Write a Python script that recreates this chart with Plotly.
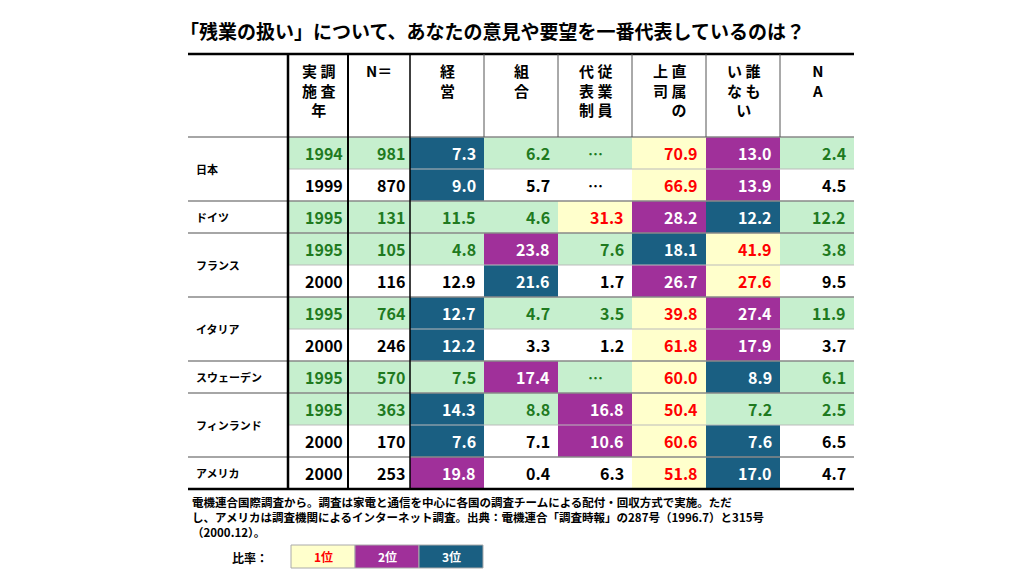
import plotly.graph_objects as go

countries = ["日本", "日本", "ドイツ", "フランス", "フランス", "イタリア", "イタリア",
             "スウェーデン", "フィンランド", "フィンランド", "アメリカ"]
years = [1994, 1999, 1995, 1995, 2000, 1995, 2000, 1995, 1995, 2000, 2000]
n_resp = [981, 870, 131, 105, 116, 764, 246, 570, 363, 170, 253]
keiei = [7.3, 9.0, 11.5, 4.8, 12.9, 12.7, 12.2, 7.5, 14.3, 7.6, 19.8]
kumiai = [6.2, 5.7, 4.6, 23.8, 21.6, 4.7, 3.3, 17.4, 8.8, 7.1, 0.4]
daihyo = [None, None, 31.3, 7.6, 1.7, 3.5, 1.2, None, 16.8, 10.6, 6.3]
joshi = [70.9, 66.9, 28.2, 18.1, 26.7, 39.8, 61.8, 60.0, 50.4, 60.6, 51.8]
daremo = [13.0, 13.9, 12.2, 41.9, 27.6, 27.4, 17.9, 8.9, 7.2, 7.6, 17.0]
na = [2.4, 4.5, 12.2, 3.8, 9.5, 11.9, 3.7, 6.1, 2.5, 6.5, 4.7]
shaded = [True, False, True, True, False, True, False, True, True, False, False]
headers = ["実 調<br>施 査<br>年", "N＝", "経<br>営", "組<br>合", "代 従<br>表 業<br>制 員",
           "上 直<br>司 属<br>　 の", "い 誰<br>な も<br>い", "N<br>A"]
title = "「残業の扱い」について、あなたの意見や要望を一番代表しているのは？"
note = ("電機連合国際調査から。調査は家電と通信を中心に各国の調査チームによる配付・回収方式で実施。ただ<br>"
        "し、アメリカは調査機関によるインターネット調査。出典：電機連合「調査時報」の287号（1996.7）と315号<br>"
        "（2000.12）。")

FONT = "Noto Sans CJK JP"
GREEN_BG, YEL, PUR, BLU = "#c6efce", "#ffffcc", "#a0309a", "#1a5f82"
GREEN_TX = "#1f7a1f"
xs = [180, 280, 340, 402, 476, 550, 624, 698, 772, 846]
top, hdr_bot, rh = 46, 129, 32

fig = go.Figure()
fig.update_xaxes(range=[0, 1024], visible=False, fixedrange=True)
fig.update_yaxes(range=[576, 0], visible=False, fixedrange=True)
shapes, anns = [], []

def rect(x0, x1, y0, y1, color):
    shapes.append(dict(type="rect", x0=x0, x1=x1, y0=y0, y1=y1, fillcolor=color, line_width=0, layer="below"))

def line(x0, y0, x1, y1, w, c="black"):
    shapes.append(dict(type="line", x0=x0, y0=y0, x1=x1, y1=y1, line=dict(color=c, width=w)))

def text(x, y, s, size, color="black", xa="center", ya="middle", align="center"):
    anns.append(dict(x=x, y=y, text=s, showarrow=False, xanchor=xa, yanchor=ya, align=align,
                     font=dict(family=FONT, size=size, color=color)))

text(170, 22, "<b>" + title + "</b>", 19, xa="left")
for j, h in enumerate(headers):
    text((xs[j + 1] + xs[j + 2]) / 2, 50, "<b>" + h + "</b>", 15, ya="top")

cols = [keiei, kumiai, daihyo, joshi, daremo]
for i in range(len(years)):
    y0 = hdr_bot + i * rh
    yc = y0 + rh / 2
    green = shaded[i]
    if green:
        rect(xs[1], xs[9], y0, y0 + rh, GREEN_BG)
    base = GREEN_TX if green else "black"
    text(xs[2] - 3, yc, "<b>%d</b>" % years[i], 16, base, xa="right")
    text(xs[3] - 3, yc, "<b>%d</b>" % n_resp[i], 16, base, xa="right")
    vals = [c[i] for c in cols]
    nums = [v for v in vals if v is not None]
    for j, v in enumerate(vals + [na[i]]):
        x0, x1 = xs[3 + j], xs[4 + j]
        if v is None:
            text((x0 + x1) / 2, yc, "<b>…</b>", 15, base)
            continue
        col = base
        if j < 5:
            rank = 1 + sum(1 for u in nums if u > v)
            if rank == 1:
                rect(x0, x1, y0, y0 + rh, YEL); col = "red"
            elif rank == 2:
                rect(x0, x1, y0, y0 + rh, PUR); col = "white"
            elif rank == 3:
                rect(x0, x1, y0, y0 + rh, BLU); col = "white"
        text(x1 - 6, yc, f"<b>{v:.1f}</b>", 16, col, xa="right")

# country labels and separators
i = 0
while i < len(countries):
    k = i
    while k < len(countries) and countries[k] == countries[i]:
        k += 1
    text(xs[0] + 6, hdr_bot + (i + k) / 2 * rh, "<b>" + countries[i] + "</b>", 11, xa="left")
    if i > 0:
        line(xs[0], hdr_bot + i * rh, xs[9], hdr_bot + i * rh, 1.5, "#888")
    for m in range(i + 1, k):
        line(xs[1], hdr_bot + m * rh, xs[9], hdr_bot + m * rh, 1, "#bbb")
    i = k

bot = hdr_bot + len(years) * rh
line(xs[0], top, xs[9], top, 2.5)
line(xs[0], hdr_bot, xs[9], hdr_bot, 1.5, "#888")
line(xs[0], bot, xs[9], bot, 2.5)
line(xs[1], top, xs[1], bot, 2.5)
line(xs[2], top, xs[2], bot, 2)
line(xs[3], top, xs[3], bot, 1.5)
for xv in xs[4:9]:
    line(xv, top, xv, hdr_bot, 1, "#555")

text(182, bot + 3, "<b>" + note + "</b>", 11.5, xa="left", ya="top", align="left")
text(262, 549, "<b>比率：</b>", 12, xa="right")
for k, (lab, bg, tc) in enumerate([("1位", YEL, "red"), ("2位", PUR, "white"), ("3位", BLU, "white")]):
    x0 = 283 + k * 64
    shapes.append(dict(type="rect", x0=x0, x1=x0 + 64, y0=537, y1=560, fillcolor=bg,
                       line=dict(color="#aaa", width=1)))
    text(x0 + 32, 548.5, "<b>" + lab + "</b>", 12, tc)

fig.update_layout(width=1024, height=576, margin=dict(l=0, r=0, t=0, b=0),
                  plot_bgcolor="white", paper_bgcolor="white",
                  shapes=shapes, annotations=anns, showlegend=False)
fig.write_html("out.html")
